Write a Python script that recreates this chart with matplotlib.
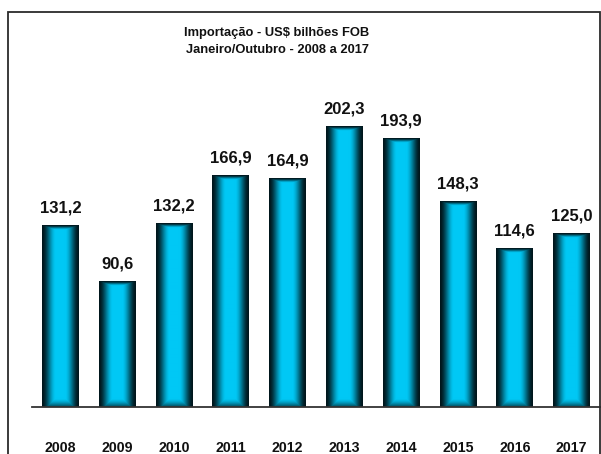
import numpy as np
import matplotlib
matplotlib.use("Agg")
import matplotlib.pyplot as plt
from matplotlib.patches import Rectangle
from matplotlib.colors import to_rgb

years = ["2008", "2009", "2010", "2011", "2012", "2013", "2014", "2015", "2016", "2017"]
values = [131.2, 90.6, 132.2, 166.9, 164.9, 202.3, 193.9, 148.3, 114.6, 125.0]
value_labels = ["131,2", "90,6", "132,2", "166,9", "164,9", "202,3", "193,9", "148,3", "114,6", "125,0"]
title_lines = ["Importação - US$ bilhões FOB", "Janeiro/Outubro - 2008 a 2017"]

FONT = ["Liberation Sans", "DejaVu Sans"]
plt.rcParams['font.family'] = FONT

W, H = 601, 454
fig = plt.figure(figsize=(W / 100, H / 100), dpi=100)
fig.patch.set_facecolor("white")

# outer frame
fig.patches.append(Rectangle((8 / W, -0.05), (600 - 8) / W, (H - 11.5) / H + 0.05,
                             transform=fig.transFigure, fill=False,
                             edgecolor="#2b2b2b", linewidth=1.3))

ax = fig.add_axes([32 / W, (H - 407) / H, (600 - 32) / W, (407 - 80) / H])
ax.set_facecolor("none")
x = np.arange(len(years))
ax.set_xlim(-0.5, len(years) - 0.5)
ax.set_ylim(0, 235.8)
bw = 0.65

# pixel scale
p0 = ax.transData.transform((0, 0))
p1 = ax.transData.transform((1, 1))
px_x = p1[0] - p0[0]
px_y = p1[1] - p0[1]

dark = np.array(to_rgb("#01161c"))
light = np.array(to_rgb("#00c8f5"))

for xi, v in zip(x, values):
    wpx = int(round(bw * px_x))
    hpx = max(int(round(v * px_y)), 2)
    jj = np.arange(wpx) + 0.5
    ii = np.arange(hpx) + 0.5
    dx = np.minimum(jj, wpx - jj)[None, :]
    dy_top = ii[:, None]
    dy_bot = (hpx - ii)[:, None]
    tx = np.clip(dx / 14.0, 0, 1)
    tt = np.clip(dy_top / 5.0, 0, 1)
    tb = np.clip(dy_bot / 9.0, 0, 1)
    t = np.minimum(np.minimum(tx, tt), 0.35 + 0.65 * tb)
    t = t * t * (3 - 2 * t)
    img = dark[None, None, :] + (light - dark)[None, None, :] * t[:, :, None]
    ax.imshow(img, extent=(xi - bw / 2, xi + bw / 2, 0, v), aspect="auto",
              interpolation="bilinear", origin="upper", zorder=2)

for xi, v, lab in zip(x, values, value_labels):
    ax.annotate(lab, (xi, v), xytext=(0, 12.5), textcoords="offset points",
                ha="center", va="center", fontsize=12, fontweight="bold",
                color="#111111", family=FONT)

ax.set_xticks(x)
ax.set_xticklabels(years, fontsize=10.2, fontweight="bold", color="#111111", family=FONT)
ax.tick_params(axis="x", length=0, pad=24.5)
ax.set_yticks([])
for s in ["top", "right", "left"]:
    ax.spines[s].set_visible(False)
ax.spines["bottom"].set_color("#333333")
ax.spines["bottom"].set_linewidth(1.3)
ax.spines["bottom"].set_zorder(3)

fig.text(277 / W, 1 - 33 / H, title_lines[0], ha="center", va="center",
         fontsize=9.3, fontweight="bold", color="#111111", family=FONT)
fig.text(277 / W, 1 - 50 / H, title_lines[1], ha="center", va="center",
         fontsize=9.3, fontweight="bold", color="#111111", family=FONT)

fig.savefig("out.png", dpi=100)
